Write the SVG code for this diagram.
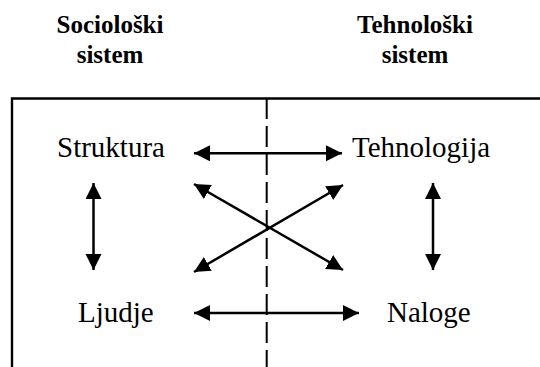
<svg xmlns="http://www.w3.org/2000/svg" width="540" height="367" viewBox="0 0 540 367">
<style>
.hdr{font-family:'Liberation Serif','Times New Roman',serif;font-weight:bold;font-size:25px;fill:#000;text-anchor:middle}
.lbl{font-family:'Liberation Serif','Times New Roman',serif;font-size:29px;fill:#000}
.frame{stroke:#000;stroke-width:2.4;fill:none}
.dash{stroke:#000;stroke-width:2;fill:none;stroke-dasharray:21 7}
.arr{stroke:#000;stroke-width:2.5;fill:none;marker-start:url(#ah);marker-end:url(#ah)}
</style>
<defs>
<marker id="ah" markerUnits="userSpaceOnUse" markerWidth="18" markerHeight="18" refX="16" refY="8" orient="auto-start-reverse" viewBox="0 0 18 18">
<path d="M0,0 L16,8 L0,16 z" fill="#000"/>
</marker>
</defs>
<rect width="540" height="367" fill="#fff"/>
<g id="frame">
<path class="frame" d="M12,367 V98.5 H540"/>
<line class="dash" x1="266.7" y1="98" x2="266.7" y2="367"/>
</g>
<g id="header-socio"><text class="hdr" x="110" y="33">Sociološki</text><text class="hdr" x="110" y="63">sistem</text></g>
<g id="header-tehno"><text class="hdr" x="415" y="33">Tehnološki</text><text class="hdr" x="415" y="63">sistem</text></g>
<g id="node-struktura"><text class="lbl" x="57" y="157">Struktura</text></g>
<g id="node-tehnologija"><text class="lbl" x="352" y="157">Tehnologija</text></g>
<g id="node-ljudje"><text class="lbl" x="78" y="322">Ljudje</text></g>
<g id="node-naloge"><text class="lbl" x="387" y="322">Naloge</text></g>
<g id="connectors">
<line class="arr" x1="194" y1="153.3" x2="342" y2="153.3"/>
<line class="arr" x1="194" y1="313" x2="359" y2="313"/>
<line class="arr" x1="93.5" y1="183" x2="93.5" y2="270"/>
<line class="arr" x1="433" y1="183" x2="433" y2="270"/>
<line class="arr" x1="194" y1="184" x2="343" y2="270"/>
<line class="arr" x1="194" y1="272" x2="343" y2="185"/>
</g>
</svg>
